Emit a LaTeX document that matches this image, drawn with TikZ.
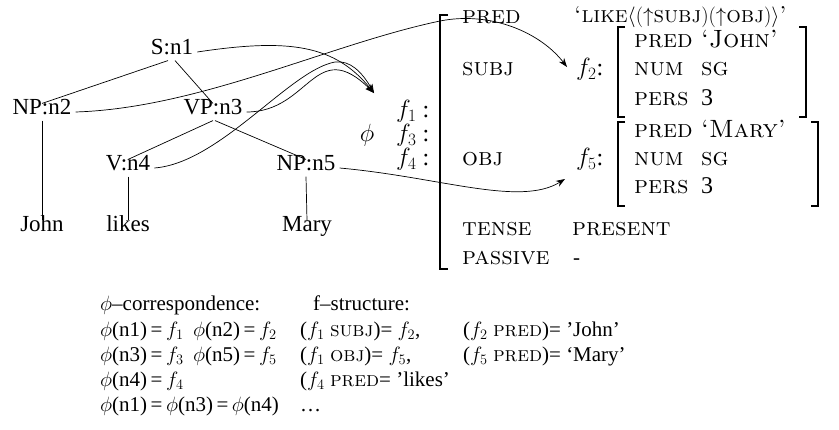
\documentclass[tikz,border=0pt]{standalone}
\usepackage[no-math]{fontspec}
\setmainfont{Liberation Serif}
\usetikzlibrary{arrows.meta}
\newcommand\sca[1]{{\fontfamily{lmr}\fontsize{25}{30}\selectfont\scshape #1}}
\newcommand\scl[1]{{\fontfamily{lmr}\fontsize{23}{28}\selectfont\scshape #1}}
\newcommand\scb[1]{{\fontfamily{lmr}\fontsize{21}{25}\selectfont\scshape #1}}
\begin{document}
\begin{tikzpicture}[x=1pt,y=-1pt,
  every node/.style={inner sep=0pt,yshift=-5pt,font=\fontsize{21}{25}\selectfont,text height=1.55ex,text depth=.35ex},
  tn/.style={inner sep=4pt,font=\fontsize{23}{27}\selectfont},
  lt/.style={anchor=west},
  fl/.style={anchor=west,font=\fontsize{24}{28}\selectfont},
  tree/.style={line width=0.7pt},
  conn/.style={line width=0.7pt},
  arr/.style={conn,-{Stealth[length=9pt,width=6.5pt]}},
  brk/.style={line width=1.5pt}]
\useasboundingbox (0,0) rectangle (839,429);
% tree
\node[tn] (n1) at (172,47) {S:n1};
\node[tn] (n2) at (42,107) {NP:n2};
\node[tn] (n3) at (213,107) {VP:n3};
\node[tn] (n4) at (128,163) {V:n4};
\node[tn] (n5) at (306,163) {NP:n5};
\node[tn] (w1) at (42,224) {John};
\node[tn] (w2) at (128,224) {likes};
\node[tn] (w3) at (307,224) {Mary};
\draw[tree] ([xshift=-4pt]n1.south) -- (n2.north);
\draw[tree] ([xshift=3pt]n1.south) -- (n3.north);
\draw[tree] (n2.south) -- (w1.north);
\draw[tree] (n3.south) -- (n4.north);
\draw[tree] ([xshift=2pt]n3.south) -- (n5.north);
\draw[tree] (n4.south) -- (w2.north);
\draw[tree] (n5.south) -- (w3.north);
% f labels
\node[fl] (f1) at (396,110) {$f_1$ :};
\node[fl] (f3) at (396,134) {$f_3$ :};
\node[fl] (f4) at (396,158) {$f_4$ :};
\node[font=\fontsize{24}{28}\selectfont] (phi) at (367,134) {$\phi$};
% main bracket
\coordinate (mbt) at (440,10);
\coordinate (mbb) at (440,264);
\draw[brk] ([xshift=8pt]mbt) -- (mbt) -- (mbb) -- ([xshift=8pt]mbb);
\node[lt] (pred) at (462,16) {\sca{pred}};
\node[lt] (like) at (574,15) {\scl{`like}$\langle(\uparrow$\scl{subj}$)(\uparrow$\scl{obj}$)\rangle$\scl{'}};
\node[lt] (subj) at (462,68) {\sca{subj}};
\node[fl] (f2) at (576,68) {$f_2$:};
\node[lt] (obj) at (462,158) {\sca{obj}};
\node[fl] (f5) at (576,158) {$f_5$:};
\node[lt] (tense) at (462,228) {\sca{tense}};
\node[lt] (present) at (572,228) {\sca{present}};
\node[lt] (passive) at (462,257) {\sca{passive}};
\node[lt] (minus) at (573,257) {-};
% f2 box
\draw[brk] (625,27) -- (618,27) -- (618,117) -- (625,117);
\draw[brk] (799,27) -- (806,27) -- (806,117) -- (799,117);
\node[lt] (p2) at (634,40) {\sca{pred}};
\node[lt] (j2) at (701,40) {\sca{`John'}};
\node[lt] (nu2) at (634,68) {\sca{num}};
\node[lt] (sg2) at (701,68) {\sca{sg}};
\node[lt,font=\fontsize{24}{28}\selectfont] (pe2) at (634,98) {\sca{pers}};
\node[lt,font=\fontsize{24}{28}\selectfont] (th2) at (701,98) {3};
% f5 box
\draw[brk] (625,122) -- (618,122) -- (618,206) -- (625,206);
\draw[brk] (811,122) -- (818,122) -- (818,206) -- (811,206);
\node[lt] (p5) at (634,130) {\sca{pred}};
\node[lt] (m5) at (701,130) {\sca{`Mary'}};
\node[lt] (nu5) at (634,158) {\sca{num}};
\node[lt] (sg5) at (701,158) {\sca{sg}};
\node[lt,font=\fontsize{24}{28}\selectfont] (pe5) at (634,186) {\sca{pers}};
\node[lt,font=\fontsize{24}{28}\selectfont] (th5) at (701,186) {3};
% connectors
\coordinate (tip1) at (374,88);
\coordinate (tip2) at (567,62);
\coordinate (tip5) at (565,174);
\draw[arr] (n1.east) .. controls (290,38) and (335,45) .. (tip1);
\draw[arr] (n3.east) .. controls (310,112) and (315,35) .. (tip1);
\draw[arr] (n4.east) .. controls (220,163) and (290,70) .. (335,62) .. controls (350,60) and (362,72) .. (tip1);
\draw[arr] (n2.east) .. controls (200,108) and (330,44) .. (440,21) .. controls (490,11) and (540,32) .. (tip2);
\draw[arr] (n5.east) .. controls (440,177) and (520,207) .. (tip5);
% bottom text
\node[lt] (b1) at (100,303) {$\phi$--correspondence:};
\node[lt] (b2) at (313,303) {f--structure:};
\node[lt] (c11) at (100,329) {$\phi$(n1)\,=\,$f_1$};
\node[lt] (c12) at (193,329) {$\phi$(n2)\,=\,$f_2$};
\node[lt] (c13) at (300,329) {($f_1$ \scb{subj})= $f_2$,};
\node[lt] (c14) at (463,329) {($f_2$ \scb{pred})= 'John'};
\node[lt] (c21) at (100,354) {$\phi$(n3)\,=\,$f_3$};
\node[lt] (c22) at (193,354) {$\phi$(n5)\,=\,$f_5$};
\node[lt] (c23) at (300,354) {($f_1$ \scb{obj})= $f_5$,};
\node[lt] (c24) at (463,354) {($f_5$ \scb{pred})= `Mary'};
\node[lt] (c31) at (100,379) {$\phi$(n4)\,=\,$f_4$};
\node[lt] (c33) at (300,379) {($f_4$ \scb{pred}= 'likes'};
\node[lt] (c41) at (100,404) {$\phi$(n1)\,=\,$\phi$(n3)\,=\,$\phi$(n4)};
\node[lt] (c43) at (300,404) {\dots};
\end{tikzpicture}
\end{document}
